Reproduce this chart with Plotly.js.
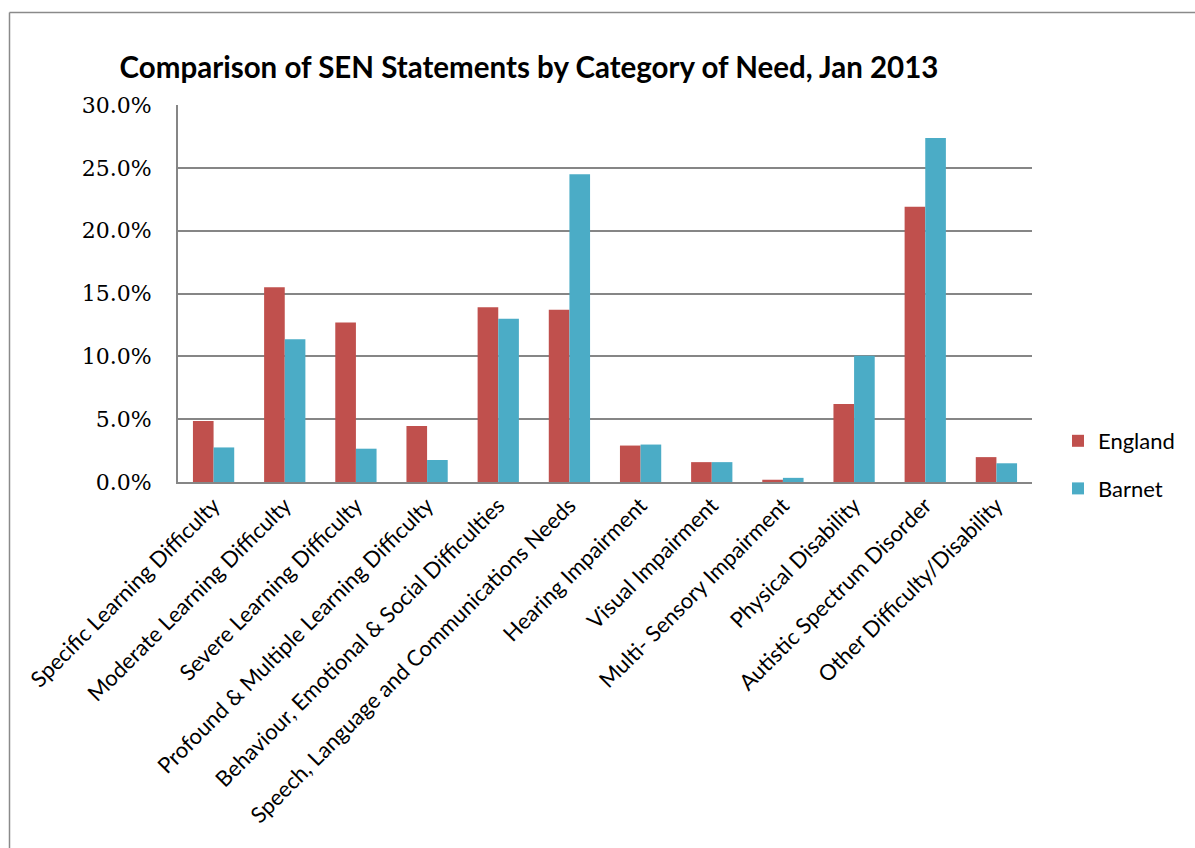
<!DOCTYPE html>
<html>
<head>
<meta charset="utf-8">
<script src="https://cdn.plot.ly/plotly-3.0.1.min.js"></script>
<style>
  html, body { margin: 0; padding: 0; background: #ffffff; }
  #chart { width: 1195px; height: 848px; }
</style>
</head>
<body>
<div id="chart"></div>
<script>
const categories = [
  "Specific Learning Difficulty",
  "Moderate Learning Difficulty",
  "Severe Learning Difficulty",
  "Profound & Multiple Learning Difficulty",
  "Behaviour, Emotional & Social Difficulties",
  "Speech, Language and Communications Needs",
  "Hearing Impairment",
  "Visual Impairment",
  "Multi- Sensory Impairment",
  "Physical Disability",
  "Autistic Spectrum Disorder",
  "Other Difficulty/Disability"
];
const englandValues = [0.0485, 0.155, 0.127, 0.0445, 0.139, 0.137, 0.029, 0.0158, 0.0018, 0.062, 0.219, 0.0198];
const barnetValues  = [0.0275, 0.1135, 0.0265, 0.0175, 0.130, 0.2448, 0.0298, 0.0158, 0.0033, 0.1005, 0.2737, 0.0149];
const yTickValues = [0, 0.05, 0.10, 0.15, 0.20, 0.25, 0.30];
const yTickLabels = ["0.0%", "5.0%", "10.0%", "15.0%", "20.0%", "25.0%", "30.0%"];
const seriesNames = ["England", "Barnet"];
const chartTitle = "Comparison of SEN Statements by Category of Need, Jan 2013";

const W = 1195, H = 848;
const L = 178, R = 1032, T = 105, B = 482;
const pw = R - L, ph = B - T;
const px = v => (v - L) / pw;
const py = v => (B - v) / ph;

const traces = [
  { type: "bar", name: seriesNames[0], x: categories, y: englandValues,
    marker: { color: "#C0504D" }, legendgroup: "a", hoverinfo: "y" },
  { type: "bar", name: seriesNames[1], x: categories, y: barnetValues,
    marker: { color: "#4BACC6" }, legendgroup: "b", hoverinfo: "y" }
];

const layout = {
  width: W, height: H,
  margin: { l: L, r: W - R, t: T, b: H - B, pad: 0, autoexpand: false },
  paper_bgcolor: "#ffffff",
  plot_bgcolor: "#ffffff",
  barmode: "group",
  bargap: 0.42,
  bargroupgap: 0,
  title: {
    text: "<b>" + chartTitle + "</b>",
    font: { family: "Lato, 'Open Sans', sans-serif", size: 29.5, color: "#000000" },
    xref: "container", yref: "container",
    x: 529 / W, xanchor: "center",
    y: 1 - 68 / H, yanchor: "middle"
  },
  xaxis: {
    type: "category",
    tickangle: -45,
    tickfont: { family: "Lato, 'Open Sans', sans-serif", size: 22, color: "#000000" },
    showgrid: false,
    showline: true, linecolor: "#868686", linewidth: 2,
    ticks: "", automargin: false
  },
  yaxis: {
    range: [0, 0.30],
    tickvals: yTickValues,
    ticktext: yTickLabels,
    tickfont: { family: "'DejaVu Serif', 'Liberation Serif', serif", size: 22, color: "#000000" },
    showgrid: true, gridcolor: "#868686", gridwidth: 2,
    showline: true, linecolor: "#868686", linewidth: 2,
    zeroline: false, ticks: "", ticklen: 0, automargin: false,
    ticklabelstandoff: 20
  },
  legend: {
    x: px(1058), xanchor: "left",
    y: py(420), yanchor: "top",
    font: { family: "Lato, 'Open Sans', sans-serif", size: 22, color: "#000000" },
    tracegroupgap: 16,
    itemwidth: 30,
    bgcolor: "rgba(0,0,0,0)"
  },
  shapes: [
    { type: "line", xref: "paper", yref: "paper",
      x0: px(9.5), x1: px(9.5), y0: py(12.5), y1: py(860),
      line: { color: "#8a8a8a", width: 1.5 } },
    { type: "line", xref: "paper", yref: "paper",
      x0: px(9.5), x1: px(1210), y0: py(12.5), y1: py(12.5),
      line: { color: "#8a8a8a", width: 1.5 } }
  ],
  showlegend: true
};

Plotly.newPlot("chart", traces, layout, { displayModeBar: false, staticPlot: true });
</script>
</body>
</html>
